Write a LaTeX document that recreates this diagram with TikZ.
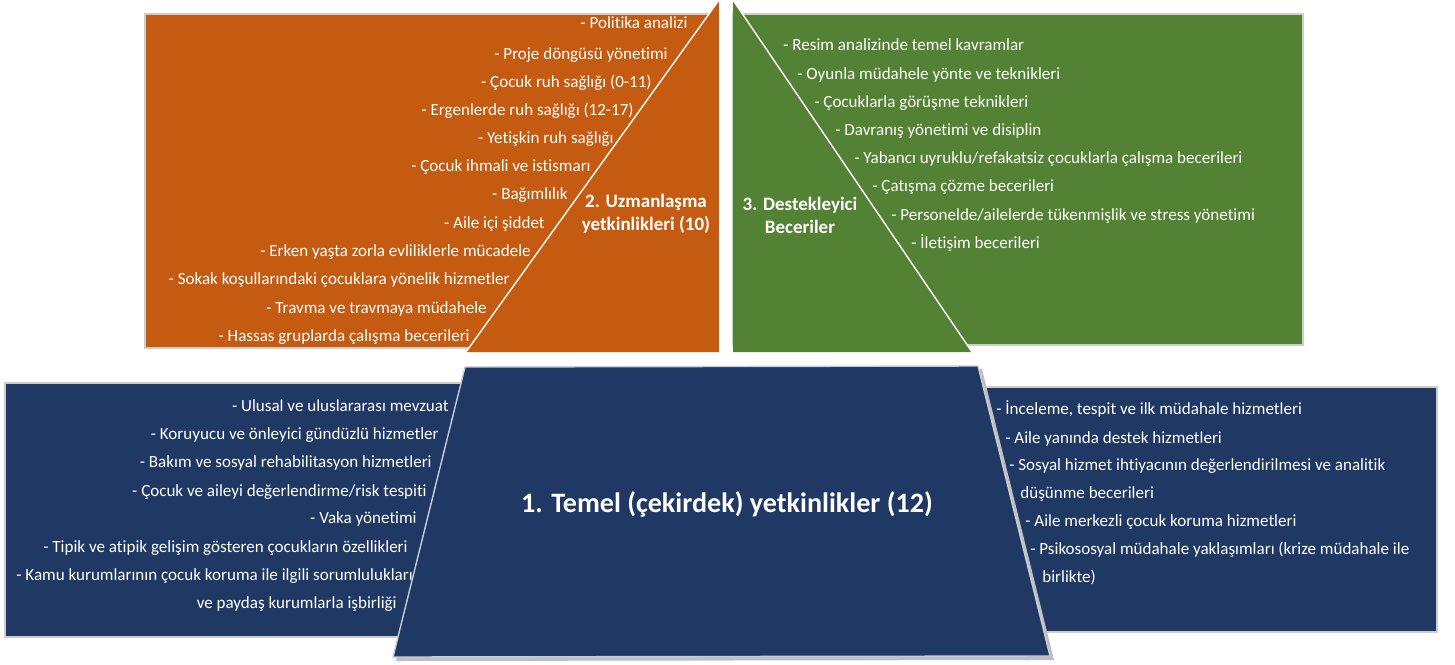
\documentclass[tikz,border=0pt]{standalone}
\usepackage{fontspec}
\setmainfont{Carlito}[Ligatures=NoCommon]
\usepackage{xcolor}
\usepackage{tikz}
\usetikzlibrary{calc}

\definecolor{orangebox}{RGB}{197,90,17}
\definecolor{greenbox}{RGB}{84,130,53}
\definecolor{bluebox}{RGB}{31,56,100}
\definecolor{rimgray}{RGB}{205,205,205}

\begin{document}
\begin{tikzpicture}[x=0.02cm, y=-0.02cm, every node/.style={font=\fontsize{9.7}{11}\selectfont, text=white, inner sep=0pt}, item/.style={}, head/.style={font=\fontsize{10.8}{13}\selectfont\bfseries, align=center}, panel/.style={draw=rimgray, line width=1.2pt}, cut/.style={draw=white, line width=0.8pt}]
      \useasboundingbox (0,0) rectangle (1455,664);
      % panels
      \fill[panel, fill=orangebox] (145,14) rectangle (718,348);
      \fill[orangebox] (719,0) -- (466,352) -- (719,352) -- cycle;
      \draw[cut] (719,0) -- (466,352);
      \fill[panel, fill=greenbox] (733,14) rectangle (1303,345);
      \fill[greenbox] (733,0) -- (972,352) -- (733,352) -- cycle;
      \draw[cut] (733,0) -- (972,352);
      \fill[panel, fill=bluebox] (5,383) rectangle (480,637);
      \fill[panel, fill=bluebox] (950,387) rectangle (1437,632);

      % 2. Uzmanlasma
      \node[item, anchor=mid east] (u1) at (688,24) {- Politika analizi};
      \node[item, anchor=mid east] (u2) at (668,55) {- Proje döngüsü yönetimi};
      \node[item, anchor=mid east] (u3) at (652,83) {- Çocuk ruh sağlığı (0-11)};
      \node[item, anchor=mid east] (u4) at (634,111) {- Ergenlerde ruh sağlığı (12-17)};
      \node[item, anchor=mid east] (u5) at (614,139) {- Yetişkin ruh sağlığı};
      \node[item, anchor=mid east] (u6) at (591,167) {- Çocuk ihmali ve istismarı};
      \node[item, anchor=mid east] (u7) at (568,195) {- Bağımlılık};
      \node[item, anchor=mid east] (u8) at (545,224) {- Aile içi şiddet};
      \node[item, anchor=mid east] (u9) at (531,252) {- Erken yaşta zorla evliliklerle mücadele};
      \node[item, anchor=mid east] (u10) at (510,280) {- Sokak koşullarındaki çocuklara yönelik hizmetler};
      \node[item, anchor=mid east] (u11) at (487,309) {- Travma ve travmaya müdahele};
      \node[item, anchor=mid east] (u12) at (470,337) {- Hassas gruplarda çalışma becerileri};
      \node[head] (uzman) at (646,214) {2. Uzmanlaşma\\yetkinlikleri (10)};

      % 3. Destekleyici
      \node[item, anchor=mid west] (d1) at (783,46) {- Resim analizinde temel kavramlar};
      \node[item, anchor=mid west] (d2) at (797,75) {- Oyunla müdahele yönte ve teknikleri};
      \node[item, anchor=mid west] (d3) at (814,103) {- Çocuklarla görüşme teknikleri};
      \node[item, anchor=mid west] (d4) at (835,131) {- Davranış yönetimi ve disiplin};
      \node[item, anchor=mid west] (d5) at (854,159) {- Yabancı uyruklu/refakatsiz çocuklarla çalışma becerileri};
      \node[item, anchor=mid west] (d6) at (872,187) {- Çatışma çözme becerileri};
      \node[item, anchor=mid west] (d7) at (891,216) {- Personelde/ailelerde tükenmişlik ve stress yönetimi};
      \node[item, anchor=mid west] (d8) at (911,244) {- İletişim becerileri};
      \node[head] (destek) at (800,215) {3. Destekleyici\\Beceriler};

      % 1. Temel, left
      \node[item, anchor=mid east] (t1) at (449,407) {- Ulusal ve uluslararası mevzuat};
      \node[item, anchor=mid east] (t2) at (439,435) {- Koruyucu ve önleyici gündüzlü hizmetler};
      \node[item, anchor=mid east] (t3) at (432,463) {- Bakım ve sosyal rehabilitasyon hizmetleri};
      \node[item, anchor=mid east] (t4) at (427,492) {- Çocuk ve aileyi değerlendirme/risk tespiti};
      \node[item, anchor=mid east] (t5) at (417,519) {- Vaka yönetimi};
      \node[item, anchor=mid east] (t6) at (408,548) {- Tipik ve atipik gelişim gösteren çocukların özellikleri};
      \node[item, anchor=mid west] (t7) at (16,576) {- Kamu kurumlarının çocuk koruma ile ilgili sorumlulukları};
      \node[item, anchor=mid east] (t8) at (397,604) {ve paydaş kurumlarla işbirliği};

      % 1. Temel, right
      \node[item, anchor=mid west] (s1) at (996,410) {- İnceleme, tespit ve ilk müdahale hizmetleri};
      \node[item, anchor=mid west] (s2) at (1005,439) {- Aile yanında destek hizmetleri};
      \node[item, anchor=mid west] (s3) at (1009,466) {- Sosyal hizmet ihtiyacının değerlendirilmesi ve analitik};
      \node[item, anchor=mid west] (s4) at (1020,494) {düşünme becerileri};
      \node[item, anchor=mid west] (s5) at (1025,522) {- Aile merkezli çocuk koruma hizmetleri};
      \node[item, anchor=mid west] (s6) at (1030,550) {- Psikososyal müdahale yaklaşımları (krize müdahale ile};
      \node[item, anchor=mid west] (s7) at (1042,578) {birlikte)};

      % core trapezoid
      \fill[black!25] (468,370) -- (982,369) -- (1054,660) -- (396,661) -- cycle;
      \filldraw[fill=bluebox, draw=white!75!bluebox, line width=0.8pt] (465,367) -- (978,366) -- (1050,656) -- (393,657) -- cycle;
      \node[font=\fontsize{16}{19}\selectfont\bfseries] (core) at (727,504) {1. Temel (çekirdek) yetkinlikler (12)};
    \end{tikzpicture}
\end{document}
